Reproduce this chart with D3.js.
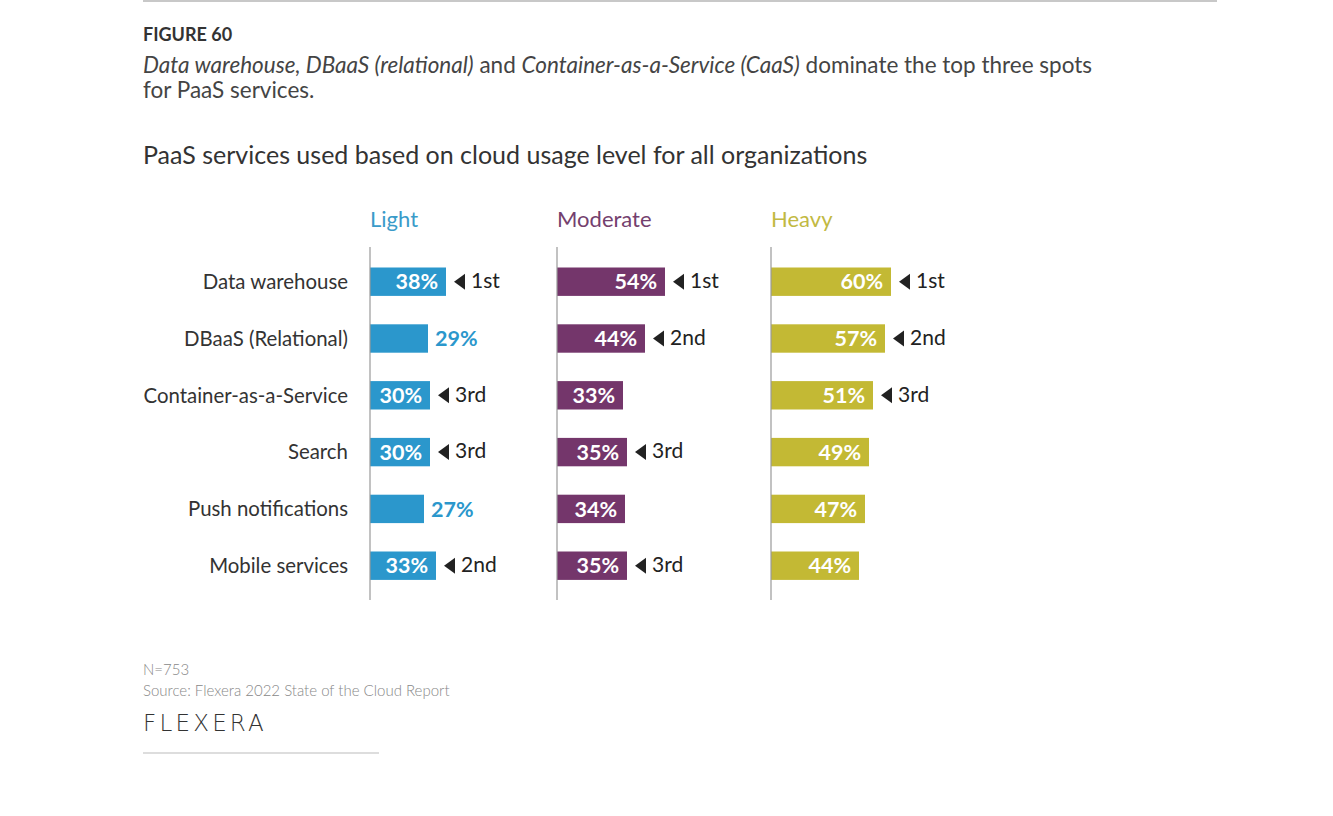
<!DOCTYPE html>
<html><head><meta charset="utf-8">
<script src="https://cdn.jsdelivr.net/npm/d3@7"></script>
<style>
html,body{margin:0;padding:0;background:#fff;}
svg{display:block;font-family:Lato,"Noto Sans",sans-serif;}
</style></head>
<body>
<svg id="chart" width="1333" height="816"></svg>
<script>
const categories = ["Data warehouse","DBaaS (Relational)","Container-as-a-Service","Search","Push notifications","Mobile services"];
const levels = ["Light","Moderate","Heavy"];
const lightValues = [38,29,30,30,27,33];
const moderateValues = [54,44,33,35,34,35];
const heavyValues = [60,57,51,49,47,44];
const lightRanks = ["1st","","3rd","3rd","","2nd"];
const moderateRanks = ["1st","2nd","","3rd","","3rd"];
const heavyRanks = ["1st","2nd","3rd","","",""];

const series = [
  {name: levels[0], values: lightValues, ranks: lightRanks, color: "#2b97cc", head: "#3a9bc9", x0: 370},
  {name: levels[1], values: moderateValues, ranks: moderateRanks, color: "#74366b", head: "#74406e", x0: 557},
  {name: levels[2], values: heavyValues, ranks: heavyRanks, color: "#c3b934", head: "#c2b942", x0: 771}
];

const svg = d3.select("#chart");

svg.append("line").attr("x1",143).attr("x2",1217).attr("y1",1).attr("y2",1)
  .attr("stroke","#c8c8c8").attr("stroke-width",2);

svg.append("text").attr("x",143).attr("y",41).attr("font-size",18).attr("font-weight",700)
  .attr("fill","#333").text("FIGURE 60");

const sub = svg.append("text").attr("x",143).attr("y",73).attr("font-size",22.5).attr("fill","#444");
sub.append("tspan").attr("font-style","italic").text("Data warehouse, DBaaS (relational)");
sub.append("tspan").text(" and ");
sub.append("tspan").attr("font-style","italic").text("Container-as-a-Service (CaaS)");
sub.append("tspan").text(" dominate the top three spots");
svg.append("text").attr("x",143).attr("y",98).attr("font-size",22.5).attr("fill","#444").text("for PaaS services.");

svg.append("text").attr("x",143).attr("y",164).attr("font-size",25).attr("fill","#333")
  .text("PaaS services used based on cloud usage level for all organizations");

const y = d3.scaleBand().domain(categories).range([253.3, 594.1]).paddingInner(0.5).paddingOuter(0.25);
const x = d3.scaleLinear().domain([0,100]).range([0,200]);

svg.append("g").selectAll("text").data(categories).join("text")
  .attr("x",348).attr("y",d=>y(d)+y.bandwidth()/2).attr("dy","0.36em")
  .attr("text-anchor","end").attr("font-size",20.4).attr("fill","#333").text(d=>d);

series.forEach(s=>{
  const g = svg.append("g").attr("transform",`translate(${s.x0},0)`);
  g.append("text").attr("x",0).attr("y",227).attr("font-size",22).attr("fill",s.head).text(s.name);
  const rows = categories.map((c,i)=>({c, v:s.values[i], r:s.ranks[i]}));
  g.selectAll("rect").data(rows).join("rect")
    .attr("x",x(0)).attr("y",d=>y(d.c)).attr("width",d=>x(d.v)).attr("height",y.bandwidth())
    .attr("fill",s.color);
  g.selectAll("text.val").data(rows).join("text").attr("class","val")
    .attr("x",d=> d.v<30 ? x(d.v)+7 : x(d.v)-8)
    .attr("text-anchor",d=> d.v<30 ? "start" : "end")
    .attr("y",d=>y(d.c)+y.bandwidth()/2).attr("dy","0.36em")
    .attr("font-size",21.5).attr("font-weight",700)
    .attr("fill",d=> d.v<30 ? s.color : "#fff").text(d=>d.v+"%");
  const rk = rows.filter(d=>d.r);
  g.selectAll("path.tri").data(rk).join("path").attr("class","tri")
    .attr("d",d=>{const cx=x(d.v)+8, cy=y(d.c)+y.bandwidth()/2; return `M${cx},${cy}L${cx+11},${cy-8}L${cx+11},${cy+8}Z`;})
    .attr("fill","#222");
  g.selectAll("text.rk").data(rk).join("text").attr("class","rk")
    .attr("x",d=>x(d.v)+25).attr("y",d=>y(d.c)+y.bandwidth()/2).attr("dy","0.3em")
    .attr("font-size",21).attr("fill","#222").text(d=>d.r);
  g.append("line").attr("x1",0).attr("x2",0).attr("y1",247).attr("y2",600)
    .attr("stroke","#999").attr("stroke-width",1.2);
});

svg.append("text").attr("x",143).attr("y",675).attr("font-size",15).attr("font-weight",300)
  .attr("fill","#888").text("N=753");
svg.append("text").attr("x",143).attr("y",696).attr("font-size",15).attr("font-weight",300)
  .attr("fill","#888").text("Source: Flexera 2022 State of the Cloud Report");
svg.append("text").attr("x",143).attr("y",731).attr("font-size",23).attr("font-weight",300)
  .attr("letter-spacing",3.2).attr("fill","#333").attr("font-family","'DejaVu Sans',sans-serif")
  .text("FLEXERA");
svg.append("line").attr("x1",143).attr("x2",379).attr("y1",753).attr("y2",753)
  .attr("stroke","#bbb").attr("stroke-width",1);
</script>
</body></html>
